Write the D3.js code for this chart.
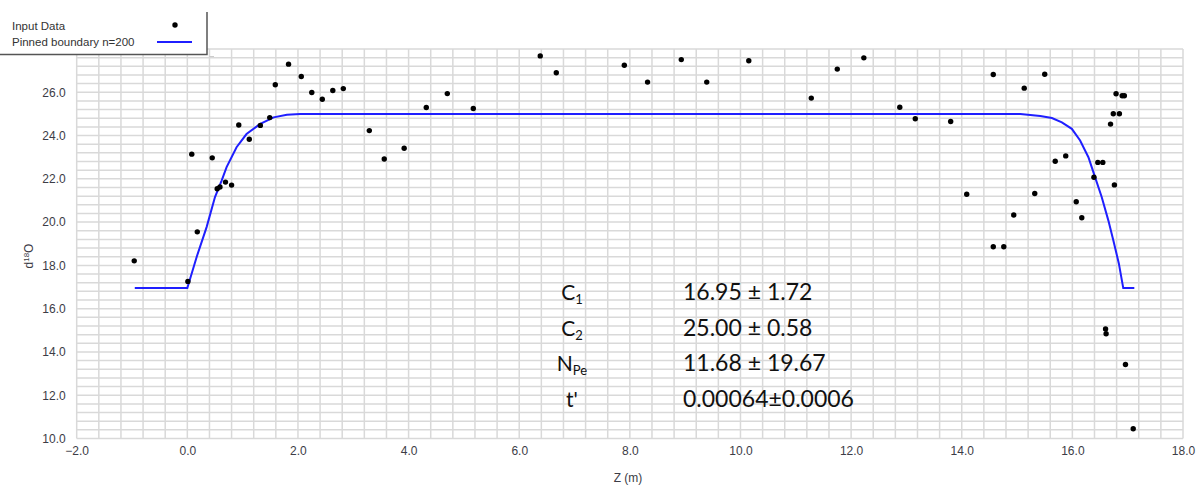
<!DOCTYPE html>
<html>
<head>
<meta charset="utf-8">
<script src="https://cdn.jsdelivr.net/npm/d3@7"></script>
<style>
  html, body { margin: 0; padding: 0; background: #fff; }
  svg { display: block; }
  .tick text { font-family: "Liberation Sans", Arial, sans-serif; font-size: 12px; fill: #3c3c46; }
</style>
</head>
<body>
<svg id="chart" width="1203" height="485"></svg>
<script>
// Observed profile: depth Z (m) and d18O
const zObs = [
  -0.96, 0.01, 0.08, 0.18, 0.45, 0.54, 0.59, 0.69, 0.80, 0.93, 1.12, 1.32, 1.49, 1.59,
  1.83, 2.06, 2.25, 2.44, 2.63, 2.82, 3.29, 3.56, 3.92, 4.32, 4.70, 5.17, 6.38, 6.67,
  7.90, 8.32, 8.93, 9.39, 10.15, 11.28, 11.75, 12.23, 12.88, 13.16, 13.80, 14.09, 14.57,
  14.57, 14.76, 14.94, 15.13, 15.32, 15.50, 15.69, 15.88, 16.07, 16.17, 16.39, 16.46,
  16.55, 16.69, 16.74, 16.85, 16.76, 16.79, 16.90, 16.94, 16.60, 16.61, 16.96, 17.10
];
const d18O = [
  18.21, 17.26, 23.14, 19.55, 22.97, 21.54, 21.62, 21.85, 21.71, 24.49, 23.83, 24.47, 24.83, 26.35,
  27.30, 26.73, 25.99, 25.68, 26.08, 26.17, 24.23, 22.92, 23.41, 25.30, 25.94, 25.25, 27.68, 26.90,
  27.25, 26.47, 27.51, 26.47, 27.46, 25.73, 27.07, 27.59, 25.31, 24.78, 24.65, 21.29, 26.82,
  18.86, 18.86, 20.33, 26.19, 21.32, 26.83, 22.81, 23.06, 20.94, 20.20, 22.07, 22.76,
  22.76, 24.53, 25.01, 25.01, 21.72, 25.93, 25.84, 25.84, 15.06, 14.84, 13.42, 10.45
];

// Pinned boundary model curve
const fitZ = [
  -0.95, 0.00, 0.17, 0.35, 0.50, 0.62, 0.71, 0.89, 1.07, 1.31, 1.56, 1.80, 2.04,
  15.06, 15.42, 15.63, 15.81, 15.99, 16.14, 16.29, 16.41, 16.53, 16.65, 16.74, 16.84, 16.92, 17.12
];
const fitC = [
  16.95, 16.95, 18.40, 19.78, 21.16, 21.92, 22.54, 23.46, 24.07, 24.53, 24.84, 24.96, 25.00,
  25.00, 24.90, 24.81, 24.61, 24.31, 23.77, 23.00, 22.08, 21.16, 20.08, 19.16, 18.09, 16.95, 16.95
];

const xTicks = [-2, 0, 2, 4, 6, 8, 10, 12, 14, 16, 18];
const yTicks = [10, 12, 14, 16, 18, 20, 22, 24, 26];

// Fitted parameters shown on the chart
const paramNames = [["C", "1"], ["C", "2"], ["N", "Pe"], ["t'", ""]];
const paramValues = ["16.95 \u00b1 1.72", "25.00 \u00b1 0.58", "11.68 \u00b1 19.67", "0.00064\u00b10.0006"];

const svg = d3.select("#chart");
const x = d3.scaleLinear().domain([-2, 18]).range([76.7, 1183]);
const y = d3.scaleLinear().domain([10, 28]).range([438.5, 49]);

// grid every 0.4 units
const gx = d3.range(0, 51).map(i => -2 + i * 0.4);
const gy = d3.range(0, 46).map(i => 10 + i * 0.4);
const grid = svg.append("g").attr("stroke", "#d9d9d9").attr("stroke-width", 1.5);
grid.selectAll("line.v").data(gx).join("line")
  .attr("x1", d => x(d)).attr("x2", d => x(d))
  .attr("y1", y(28)).attr("y2", y(10));
grid.selectAll("line.h").data(gy).join("line")
  .attr("x1", x(-2)).attr("x2", x(18))
  .attr("y1", d => y(d)).attr("y2", d => y(d));

// axes
const xAxis = svg.append("g").attr("transform", `translate(0,${y(10) + 5})`)
  .call(d3.axisBottom(x).tickValues(xTicks).tickSize(0).tickFormat(d3.format(".1f")));
xAxis.select(".domain").remove();
const yAxis = svg.append("g").attr("transform", `translate(${x(-2) - 8},0)`)
  .call(d3.axisLeft(y).tickValues(yTicks).tickSize(0).tickFormat(d3.format(".1f")));
yAxis.select(".domain").remove();

svg.append("text").attr("x", 628).attr("y", 482)
  .attr("text-anchor", "middle")
  .style("font-family", "Liberation Sans, Arial, sans-serif").style("font-size", "12px").attr("fill", "#3c3c46")
  .text("Z (m)");

const yt = svg.append("text")
  .attr("transform", "translate(33,256) rotate(-90)")
  .attr("text-anchor", "middle")
  .style("font-family", "Liberation Sans, Arial, sans-serif").style("font-size", "12px").attr("fill", "#3c3c46");
yt.append("tspan").text("d");
yt.append("tspan").attr("dy", -4).style("font-size", "8px").text("18");
yt.append("tspan").attr("dy", 4).text("O");

// model curve
const line = d3.line().x((d, i) => x(fitZ[i])).y((d, i) => y(fitC[i]));
svg.append("path").datum(fitZ).attr("d", line)
  .attr("fill", "none").attr("stroke", "#1f1fff").attr("stroke-width", 2);

// observations
svg.append("g").selectAll("circle").data(zObs).join("circle")
  .attr("cx", d => x(d)).attr("cy", (d, i) => y(d18O[i]))
  .attr("r", 2.7).attr("fill", "#000");

// parameter table
const font = "Lato, 'Open Sans', sans-serif";
const rowY = [300, 335.5, 371, 406.5];
paramNames.forEach((p, i) => {
  const t = svg.append("text").attr("x", 572).attr("y", rowY[i])
    .attr("text-anchor", "middle").style("font-family", font).style("font-size", "21px").attr("fill", "#111");
  t.append("tspan").text(p[0]);
  if (p[1]) t.append("tspan").attr("dy", 4).style("font-size", "13px").text(p[1]);
});
svg.selectAll("text.val").data(paramValues).join("text").attr("class", "val")
  .attr("x", 683).attr("y", (d, i) => rowY[i])
  .style("font-family", font).style("font-size", "23px").attr("fill", "#111")
  .text(d => d);

// legend: white panel with a border on its right and bottom edges
const lg = svg.append("g");
lg.append("rect").attr("x", 0).attr("y", 0).attr("width", 207).attr("height", 54).attr("fill", "#fff");
lg.append("path").attr("d", "M207,12V54.5H0").attr("fill", "none")
  .attr("stroke", "#555").attr("stroke-width", 1.5);
lg.append("path").attr("d", "M209,56.5H214").attr("stroke", "#ccc").attr("stroke-width", 1);
lg.append("text").attr("x", 12).attr("y", 30)
  .style("font-family", "Liberation Sans, Arial, sans-serif").style("font-size", "11.5px").attr("fill", "#333")
  .text("Input Data");
lg.append("text").attr("x", 12).attr("y", 46)
  .style("font-family", "Liberation Sans, Arial, sans-serif").style("font-size", "11.5px").attr("fill", "#333")
  .text("Pinned boundary n=200");
lg.append("circle").attr("cx", 175).attr("cy", 25).attr("r", 2.7).attr("fill", "#000");
lg.append("line").attr("x1", 157).attr("x2", 192).attr("y1", 42).attr("y2", 42)
  .attr("stroke", "#1f1fff").attr("stroke-width", 2);
</script>
</body>
</html>
